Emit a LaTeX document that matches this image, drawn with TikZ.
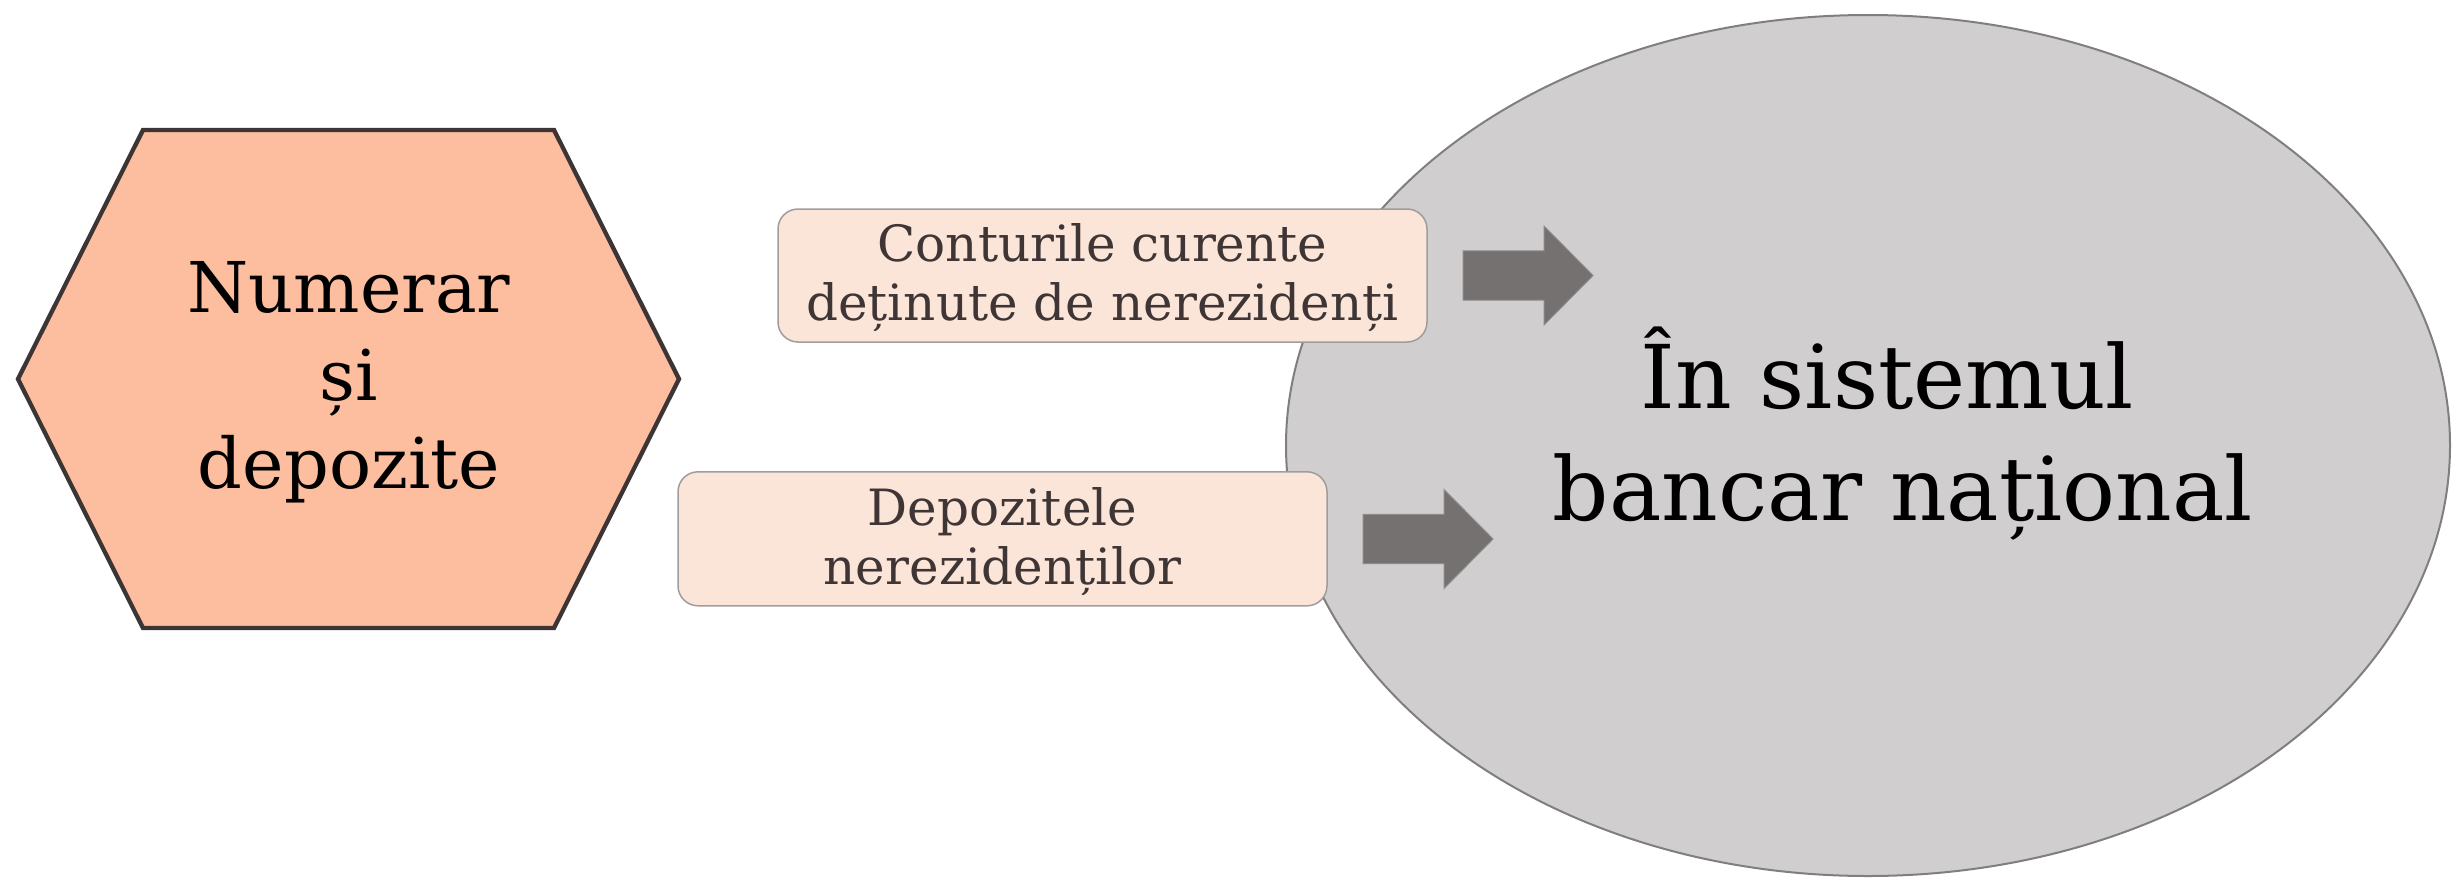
\documentclass[tikz,border=0pt]{standalone}
\usepackage{fontspec}
\setmainfont{DejaVu Serif}
\usetikzlibrary{shapes.geometric}
\definecolor{hexfill}{HTML}{FCBE9E}
\definecolor{hexline}{HTML}{3D3535}
\definecolor{ellfill}{HTML}{D0CECF}
\definecolor{ellline}{HTML}{7F7F7F}
\definecolor{boxfill}{HTML}{FBE5D9}
\definecolor{boxline}{HTML}{A09C9C}
\definecolor{boxtext}{HTML}{3F3535}
\definecolor{arrfill}{HTML}{747170}
\definecolor{arrline}{HTML}{8C8A8A}
\tikzset{
  hexshape/.style={draw=hexline, fill=hexfill, line width=4.3pt},
  bigoval/.style={ellipse, draw=ellline, fill=ellfill, line width=2pt, inner sep=0pt},
  roundbox/.style={draw=boxline, fill=boxfill, line width=1.5pt, rounded corners=20pt, inner sep=0pt},
  boxtxt/.style={align=center, text=boxtext, inner sep=0pt, font=\fontsize{50pt}{58.6pt}\selectfont},
  hextxt/.style={align=center, text=black, inner sep=0pt, font=\fontsize{70pt}{88pt}\selectfont},
  bigtxt/.style={align=center, text=black, inner sep=0pt, font=\fontsize{88pt}{112.3pt}\selectfont},
  arrowbody/.style={fill=arrfill, draw=arrline, line width=1pt},
  blockarr/.pic={\path[arrowbody] (0,-24.7) -- (81,-24.7) -- (81,-49.5) -- (130,0) -- (81,49.5) -- (81,24.7) -- (0,24.7) -- cycle;}
}
\begin{document}
\begin{tikzpicture}[x=1pt,y=-1pt]
\useasboundingbox (0,0) rectangle (2453,879);
% big oval
\node[bigoval, minimum width=1164pt, minimum height=861pt] (bank) at (1868,445.5) {};
% hexagon
\coordinate (h1) at (18,379);
\coordinate (h2) at (143,130);
\coordinate (h3) at (554,130);
\coordinate (h4) at (679,379);
\coordinate (h5) at (554,628);
\coordinate (h6) at (143,628);
\path[hexshape] (h1) -- (h2) -- (h3) -- (h4) -- (h5) -- (h6) -- cycle;
\node[hextxt] (hex) at (349,383) {Numerar\strut\\și\strut\\depozite\strut};
% boxes
\node[roundbox, minimum width=649pt, minimum height=133pt] (box1) at (1102.5,275.5) {};
\node[boxtxt] (t1) at (1102.5,279.5) {Conturile curente\strut\\deținute de nerezidenți\strut};
\node[roundbox, minimum width=649pt, minimum height=134pt] (box2) at (1002.5,538.8) {};
\node[boxtxt] (t2) at (1002.5,543) {Depozitele\strut\\nerezidenților\strut};
% block arrows
\pic at (1463,275.5) {blockarr};
\pic at (1363,539) {blockarr};
% big text
\node[bigtxt] (bt) at (1903,440.5) {În sistemul\hspace*{0.36em}\strut\\bancar național\strut};
\end{tikzpicture}
\end{document}
